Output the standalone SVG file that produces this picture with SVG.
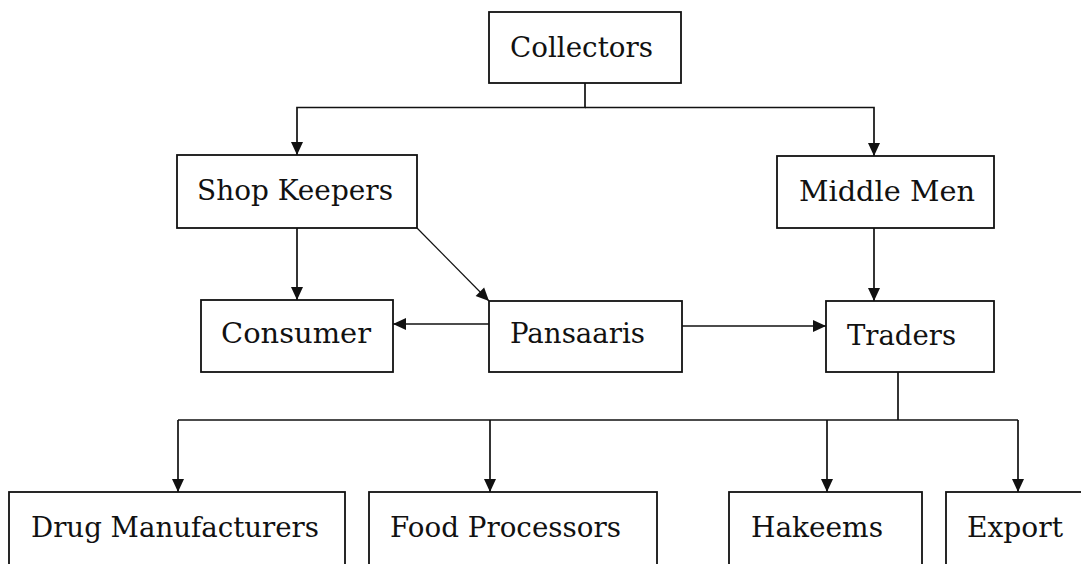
<svg xmlns="http://www.w3.org/2000/svg" width="1081" height="564" viewBox="0 0 1081 564">
<style>
.box{fill:#fff;stroke:#111;stroke-width:1.8}
.lbl{font-family:"DejaVu Serif","Liberation Serif",serif;font-size:27px;fill:#111}
.con{fill:none;stroke:#111;stroke-width:1.7}
.thin{fill:none;stroke:#111;stroke-width:1.2}
</style>
<defs>
<marker id="arr" markerUnits="userSpaceOnUse" markerWidth="16" markerHeight="16" viewBox="0 0 16 16" refX="14" refY="8" orient="auto">
<path d="M1,2 L14,8 L1,14 Z" fill="#111"/>
</marker>
</defs>
<rect width="1081" height="564" fill="#fff"/>
<g id="connectors">
<path class="con" d="M585,83 V107.5 H297 V155" marker-end="url(#arr)"/>
<path class="con" d="M585,107.5 H874 V156" marker-end="url(#arr)"/>
<path class="con" d="M297,228 V300" marker-end="url(#arr)"/>
<path class="thin" d="M417,228 L489,301" marker-end="url(#arr)"/>
<path class="con" d="M874,228 V301" marker-end="url(#arr)"/>
<path class="con" d="M489,324 H393" marker-end="url(#arr)"/>
<path class="con" d="M682,326 H826" marker-end="url(#arr)"/>
<path class="con" d="M898,372 V420"/>
<path class="con" d="M178,420 H1018"/>
<path class="con" d="M178,420 V492" marker-end="url(#arr)"/>
<path class="con" d="M490,420 V492" marker-end="url(#arr)"/>
<path class="con" d="M827,420 V492" marker-end="url(#arr)"/>
<path class="con" d="M1018,420 V492" marker-end="url(#arr)"/>
</g>
<g id="collectors"><rect class="box" x="489" y="12" width="192" height="71"/><text class="lbl" x="510" y="57" textLength="143" lengthAdjust="spacingAndGlyphs">Collectors</text></g>
<g id="shop-keepers"><rect class="box" x="177" y="155" width="240" height="73"/><text class="lbl" x="197" y="200" textLength="196" lengthAdjust="spacingAndGlyphs">Shop Keepers</text></g>
<g id="middle-men"><rect class="box" x="777" y="156" width="217" height="72"/><text class="lbl" x="799" y="201" textLength="176" lengthAdjust="spacingAndGlyphs">Middle Men</text></g>
<g id="consumer"><rect class="box" x="201" y="300" width="192" height="72"/><text class="lbl" x="221" y="343" textLength="150" lengthAdjust="spacingAndGlyphs">Consumer</text></g>
<g id="pansaaris"><rect class="box" x="489" y="301" width="193" height="71"/><text class="lbl" x="510" y="343" textLength="135" lengthAdjust="spacingAndGlyphs">Pansaaris</text></g>
<g id="traders"><rect class="box" x="826" y="301" width="168" height="71"/><text class="lbl" x="847" y="345" textLength="109" lengthAdjust="spacingAndGlyphs">Traders</text></g>
<g id="drug-manufacturers"><rect class="box" x="9" y="492" width="336" height="80"/><text class="lbl" x="31" y="537" textLength="288" lengthAdjust="spacingAndGlyphs">Drug Manufacturers</text></g>
<g id="food-processors"><rect class="box" x="369" y="492" width="288" height="80"/><text class="lbl" x="390" y="537" textLength="231" lengthAdjust="spacingAndGlyphs">Food Processors</text></g>
<g id="hakeems"><rect class="box" x="729" y="492" width="193" height="80"/><text class="lbl" x="751" y="537" textLength="132" lengthAdjust="spacingAndGlyphs">Hakeems</text></g>
<g id="export"><rect class="box" x="946" y="492" width="160" height="80"/><text class="lbl" x="967" y="537" textLength="96" lengthAdjust="spacingAndGlyphs">Export</text></g>
</svg>
